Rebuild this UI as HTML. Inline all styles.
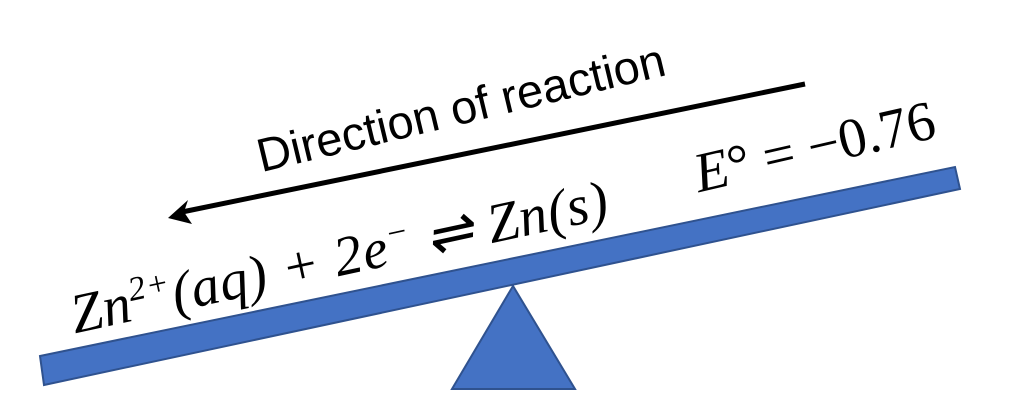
<!DOCTYPE html>
<html><head><style>
html,body{margin:0;padding:0;background:#fff;}
body{width:1024px;height:403px;overflow:hidden;position:relative;}
.t{position:absolute;white-space:nowrap;transform-origin:0 100%;line-height:1;}
</style></head><body>
<svg width="1024" height="403" style="position:absolute;left:0;top:0">
<polygon points="40,356 955,167 960,189 44,385" fill="#4472c4" stroke="#2f528f" stroke-width="2"/>
<polygon points="513,286 452,389 575,389" fill="#4472c4" stroke="#2f528f" stroke-width="2"/>
<line x1="805" y1="84" x2="182" y2="212" stroke="#000" stroke-width="5"/>
<polygon points="168,218 188,200 184,212 192,224" fill="#000"/>
</svg>
<div class="t" style="left:264px;top:128px;font:47px 'Liberation Sans',sans-serif;transform:rotate(-13.5deg)">Direction of reaction</div>
<div class="t" style="left:78px;top:282px;font:italic 56px 'Liberation Serif',serif;letter-spacing:1px;transform:rotate(-12.2deg)">Zn<sup style="font-size:34px">2+</sup>(aq) + 2e<sup style="font-size:34px">−</sup> ⇌ Zn(s)</div>
<div class="t" style="left:702px;top:142px;font:56px 'Liberation Serif',serif;transform:rotate(-13deg)"><i>E</i>° = −0.76</div>
</body></html>
